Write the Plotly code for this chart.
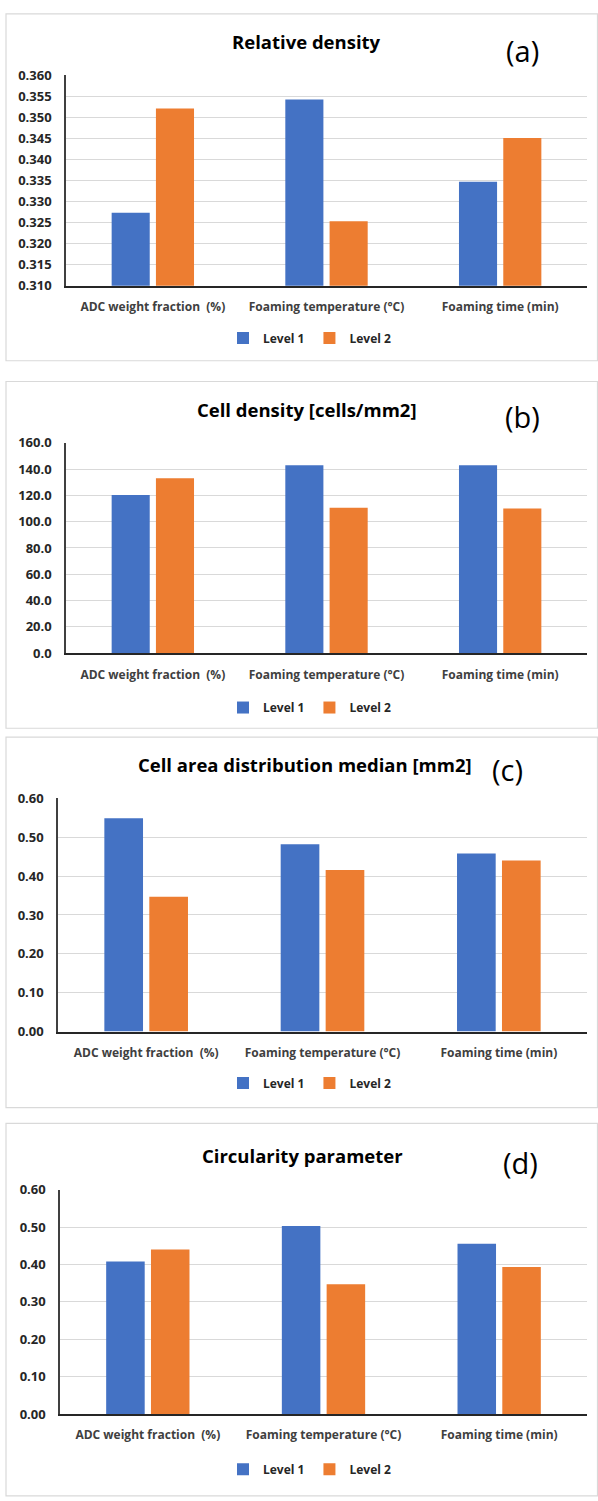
import plotly.graph_objects as go

W, H = 598, 1501

# ---------------- data ----------------
categories = ["ADC weight fraction\u00a0 (%)", "Foaming temperature (°C)", "Foaming time (min)"]
series_names = ["Level 1", "Level 2"]

rel_density_l1 = [0.3273, 0.3542, 0.3347]
rel_density_l2 = [0.3521, 0.3253, 0.3451]

cell_density_l1 = [120.3, 142.8, 142.8]
cell_density_l2 = [133.0, 110.5, 110.0]

cell_area_l1 = [0.549, 0.482, 0.458]
cell_area_l2 = [0.347, 0.416, 0.440]

circularity_l1 = [0.408, 0.503, 0.455]
circularity_l2 = [0.440, 0.347, 0.393]

panel_titles = ["Relative density", "Cell density [cells/mm2]",
                "Cell area distribution median [mm2]", "Circularity parameter"]
panel_tags = ["(a)", "(b)", "(c)", "(d)"]

# ---------------- styling / layout (pixels) ----------------
colors = ["#4472C4", "#ED7D31"]
FONT = "Open Sans"

panels = [
    dict(l1=rel_density_l1, l2=rel_density_l2, rng=[0.310, 0.360], dtick=0.005, fmt=".3f",
         box=(6, 5, 597.5, 356), plot=(66, 587, 67, 280), title_xy=(306, 33), tag_xy=(522, 42),
         legend_y=333),
    dict(l1=cell_density_l1, l2=cell_density_l2, rng=[0, 160], dtick=20, fmt=".1f",
         box=(6, 377, 597.5, 728), plot=(66, 587, 439, 652), title_xy=(307, 405), tag_xy=(522, 412),
         legend_y=707),
    dict(l1=cell_area_l1, l2=cell_area_l2, rng=[0, 0.6], dtick=0.1, fmt=".2f",
         box=(6, 737, 597.5, 1112), plot=(58, 587, 799, 1035), title_xy=(305, 765), tag_xy=(507, 770),
         legend_y=1087),
    dict(l1=circularity_l1, l2=circularity_l2, rng=[0, 0.6], dtick=0.1, fmt=".2f",
         box=(6, 1128, 597.5, 1505), plot=(60, 587, 1195, 1422), title_xy=(302, 1160), tag_xy=(520, 1167),
         legend_y=1478),
]

fig = go.Figure()
shapes = []
annotations = []
layout_extra = {}

def fx(px):
    return px / W

def fy(py):
    return 1 - py / H

for i, p in enumerate(panels):
    n = i + 1
    xa = "x" if n == 1 else f"x{n}"
    ya = "y" if n == 1 else f"y{n}"
    lg = "legend" if n == 1 else f"legend{n}"
    for name, vals, col in zip(series_names, [p["l1"], p["l2"]], colors):
        fig.add_trace(go.Bar(
            x=categories, y=vals, name=name, marker=dict(color=col, line=dict(width=0)),
            xaxis=xa, yaxis=ya, legend=lg, showlegend=True,
            hovertemplate="%{x}<br>" + name + ": %{y}<extra></extra>",
        ))
    x0, x1, ytop, ybot = p["plot"]
    xkey = "xaxis" if n == 1 else f"xaxis{n}"
    ykey = "yaxis" if n == 1 else f"yaxis{n}"
    layout_extra[xkey] = dict(
        domain=[fx(x0), fx(x1)], anchor=ya, type="category",
        showline=True, linecolor="#262626", linewidth=2, showgrid=False, ticks="",
        ticklabelstandoff=9,
        tickfont=dict(family=FONT, size=12, color="#404040", weight="bold"),
    )
    layout_extra[ykey] = dict(
        domain=[fy(ybot), fy(ytop)], anchor=xa, range=p["rng"], dtick=p["dtick"],
        tick0=p["rng"][0], tickformat=p["fmt"],
        showline=True, linecolor="#404040", linewidth=1.5,
        showgrid=True, gridcolor="#d9d9d9", gridwidth=1, zeroline=False, ticks="",
        ticklabelstandoff=10,
        tickfont=dict(family=FONT, size=13, color="#262626", weight="bold"),
    )
    layout_extra[lg] = dict(
        orientation="h", x=fx(310), xanchor="center", y=fy(p["legend_y"]), yanchor="middle",
        xref="paper", yref="paper", bgcolor="rgba(0,0,0,0)", itemwidth=30,
        font=dict(family=FONT, size=12, color="#262626", weight="bold"),
        traceorder="normal",
    )
    bx0, by0, bx1, by1 = p["box"]
    shapes.append(dict(type="rect", xref="paper", yref="paper",
                       x0=fx(bx0), x1=fx(bx1), y0=fy(by1), y1=fy(by0),
                       line=dict(color="#d9d9d9", width=1.2), fillcolor="rgba(0,0,0,0)", layer="below"))
    tx, ty = p["title_xy"]
    annotations.append(dict(text=panel_titles[i], x=fx(tx), y=fy(ty), xref="paper", yref="paper",
                            xanchor="center", yanchor="middle", showarrow=False,
                            font=dict(family=FONT, size=18.5, color="#000000", weight="bold")))
    gx, gy = p["tag_xy"]
    annotations.append(dict(text=panel_tags[i], x=fx(gx), y=fy(gy), xref="paper", yref="paper",
                            xanchor="center", yanchor="middle", showarrow=False,
                            font=dict(family=FONT, size=29, color="#000000")))

fig.update_layout(
    width=W, height=H, margin=dict(l=0, r=0, t=0, b=0, pad=0),
    paper_bgcolor="white", plot_bgcolor="white",
    barmode="group", bargap=0.49, bargroupgap=0.14,
    shapes=shapes, annotations=annotations,
    **layout_extra,
)

fig.write_html("out.html")
